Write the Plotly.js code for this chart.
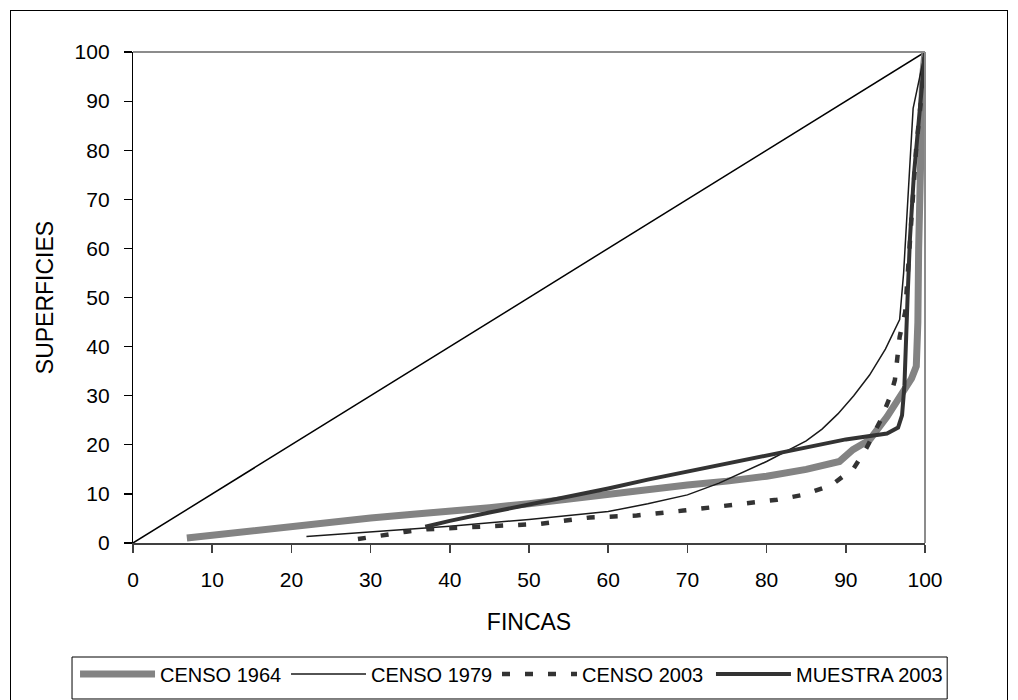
<!DOCTYPE html>
<html>
<head>
<meta charset="utf-8">
<script src="https://cdn.plot.ly/plotly-3.0.1.min.js"></script>
<style>
  html, body { margin: 0; padding: 0; background: #fff; }
  #wrap { position: relative; width: 1018px; height: 700px; overflow: hidden; }
  #chart { width: 1018px; height: 700px; }
  #frame { position: absolute; left: 10px; top: 10px; width: 996px; height: 700px;
           border: 1px solid #000; pointer-events: none; }
</style>
</head>
<body>
<div id="wrap">
  <div id="chart"></div>
  <div id="frame"></div>
</div>
<script>
// Equality line
var diagX = [0, 100];
var diagY = [0, 100];

// CENSO 1964
var c1964X = [6.8, 10, 15, 20, 25, 30, 35, 40, 45, 50, 55, 60, 65, 70, 75, 80, 85, 87, 89.2, 90.9, 93, 95.2, 97.2, 98.3, 98.9, 99.1, 99.2, 99.4, 99.7, 100];
var c1964Y = [1.0, 1.6, 2.5, 3.3, 4.2, 5.1, 5.8, 6.4, 7.2, 8.0, 9.0, 10.0, 11.0, 11.8, 12.6, 13.6, 15.0, 15.6, 16.6, 19.0, 21.0, 25.7, 30.5, 33.5, 36, 45, 60, 80, 95, 100];

// CENSO 1979
var c1979X = [21.9, 30, 40, 50, 60, 65, 70, 74, 80, 85, 87, 89, 91, 93, 95, 96.8, 97.3, 98.5, 100];
var c1979Y = [1.3, 2.2, 3.4, 4.8, 6.4, 8.0, 9.8, 12.2, 16.6, 20.8, 23.2, 26.3, 30.0, 34.2, 39.5, 45.5, 55, 88.5, 100];

// CENSO 2003
var c2003X = [28.4, 31.4, 34.5, 37.1, 40, 45.9, 51.4, 57.7, 63.6, 69.5, 75.4, 81.3, 84.6, 88.2, 91, 92.6, 94.3, 95.6, 96.2, 96.8, 97.5, 98, 98.9, 99.8, 100];
var c2003Y = [0.8, 1.6, 2.3, 2.8, 3.0, 3.5, 3.9, 5.2, 5.6, 6.6, 7.6, 8.8, 9.8, 11.8, 15.2, 19.3, 24.7, 29.8, 33.2, 42, 47, 58, 80.7, 95, 100];

// MUESTRA 2003
var m2003X = [36.9, 40, 45, 50, 55, 60, 65, 70, 74, 80, 85, 90, 95.2, 96.6, 97.1, 97.4, 97.8, 98.1, 98.6, 99.2, 100];
var m2003Y = [3.3, 4.5, 6.2, 7.8, 9.5, 11.1, 12.9, 14.5, 15.9, 17.9, 19.5, 21.1, 22.3, 23.5, 26, 32, 50, 62, 75, 86, 100];

var seriesNames = ['CENSO 1964', 'CENSO 1979', 'CENSO 2003', 'MUESTRA 2003'];
var xTicks = [0, 10, 20, 30, 40, 50, 60, 70, 80, 90, 100];
var yTicks = [0, 10, 20, 30, 40, 50, 60, 70, 80, 90, 100];

var FONT = 'Liberation Sans, Arial, sans-serif';

var traces = [
  { x: diagX, y: diagY, mode: 'lines', showlegend: false, hoverinfo: 'skip',
    line: { color: '#000000', width: 1.5 } },
  { x: c1964X, y: c1964Y, mode: 'lines', name: seriesNames[0], legend: 'legend',
    line: { color: '#838383', width: 7 } },
  { x: c1979X, y: c1979Y, mode: 'lines', name: seriesNames[1], legend: 'legend',
    line: { color: '#1a1a1a', width: 1.5 } },
  { x: c2003X, y: c2003Y, mode: 'lines', name: seriesNames[2], legend: 'legend',
    line: { color: '#333333', width: 4.5, dash: '8px,15px' } },
  { x: m2003X, y: m2003Y, mode: 'lines', name: seriesNames[3], legend: 'legend2',
    line: { color: '#333333', width: 4 } }
];

var legendCommon = {
  orientation: 'h', xref: 'container', yref: 'container',
  xanchor: 'left', yanchor: 'middle', y: 0.0371,
  font: { family: FONT, size: 20, color: '#000' },
  bgcolor: 'rgba(0,0,0,0)', borderwidth: 0,
  itemwidth: 75, traceorder: 'normal'
};

var legend1 = Object.assign({}, legendCommon, { x: 0.0737, entrywidth: 121, entrywidthmode: 'pixels' });
var legend2 = Object.assign({}, legendCommon, { x: 0.6984 });

var layout = {
  width: 1018, height: 700,
  margin: { l: 133, r: 93, t: 52, b: 157 },
  paper_bgcolor: '#ffffff', plot_bgcolor: '#ffffff',
  font: { family: FONT, size: 21, color: '#000' },
  showlegend: true,
  legend: legend1,
  legend2: legend2,
  xaxis: {
    range: [0, 100], tickvals: xTicks, ticktext: xTicks.map(String),
    showgrid: false, zeroline: false,
    showline: true, linecolor: '#404040', linewidth: 2,
    ticks: 'outside', ticklen: 8, tickcolor: '#404040', tickwidth: 1.5,
    ticklabelstandoff: 9,
    tickfont: { family: FONT, size: 21, color: '#000' },
    title: { text: 'FINCAS', font: { family: FONT, size: 23, color: '#000' }, standoff: 24 },
    automargin: false, fixedrange: true
  },
  yaxis: {
    range: [0, 100], tickvals: yTicks, ticktext: yTicks.map(String),
    showgrid: false, zeroline: false,
    showline: true, linecolor: '#000000', linewidth: 1.2,
    ticks: 'outside', ticklen: 8, tickcolor: '#000000', tickwidth: 1.2,
    ticklabelstandoff: 10,
    tickfont: { family: FONT, size: 21, color: '#000' },
    title: { text: 'SUPERFICIES', font: { family: FONT, size: 23, color: '#000' }, standoff: 14 },
    automargin: false, fixedrange: true
  },
  shapes: [
    { type: 'line', xref: 'paper', yref: 'paper', x0: 0, x1: 1, y0: 1, y1: 1,
      line: { color: '#8c8c8c', width: 2 } },
    { type: 'line', xref: 'paper', yref: 'paper', x0: 1, x1: 1, y0: 0, y1: 1,
      line: { color: '#8c8c8c', width: 2 } },
    { type: 'rect', xref: 'paper', yref: 'paper',
      x0: -0.077, x1: 1.028, y0: -0.3177, y1: -0.2322,
      line: { color: '#000000', width: 1 }, fillcolor: 'rgba(0,0,0,0)' }
  ]
};

Plotly.newPlot('chart', traces, layout, { displayModeBar: false, staticPlot: true });
</script>
</body>
</html>
